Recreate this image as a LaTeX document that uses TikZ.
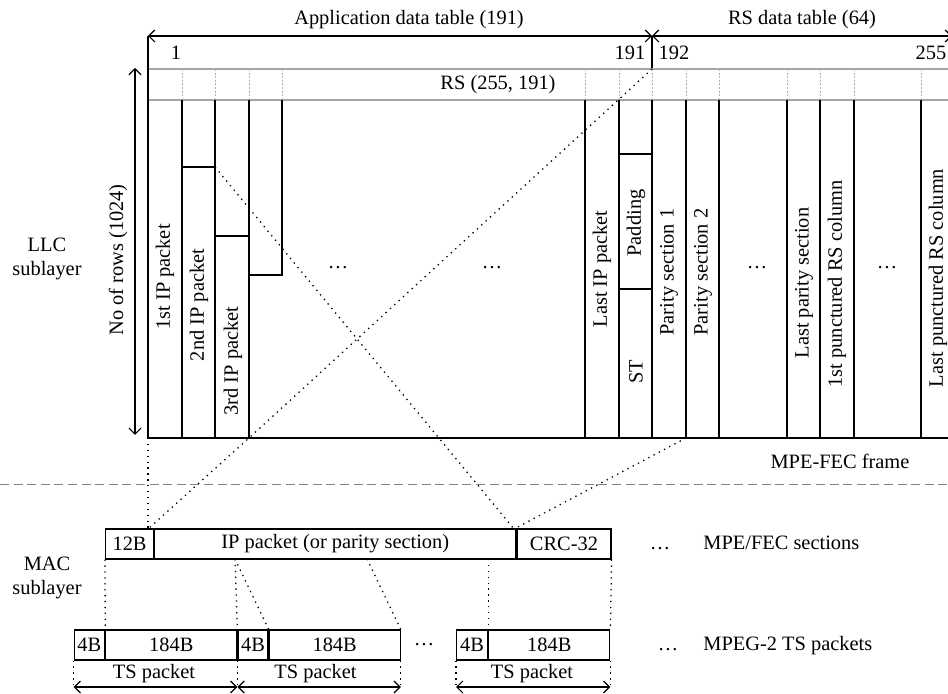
\documentclass[tikz,border=0pt]{standalone}
\usepackage{fontspec}
\setmainfont{Liberation Serif}
\usetikzlibrary{arrows.meta}
\begin{document}
\begin{tikzpicture}[x=0.5pt,y=-0.5pt,
  every node/.style={font=\fontsize{10.2}{12}\selectfont, inner sep=0pt},
  ln/.style={line width=0.6pt, black},
  dotline/.style={line width=0.65pt, dash pattern=on 0.65pt off 2.3pt},
  rsline/.style={line width=0.8pt, black!35},
  rsdiv/.style={line width=0.4pt, black!30, dash pattern=on 1pt off 0.8pt},
  dim/.style={line width=0.6pt, {Straight Barb[length=3pt,width=6pt]}-{Straight Barb[length=3pt,width=6pt]}},
  rot/.style={rotate=90},
  box/.style={draw, line width=0.6pt, minimum height=15pt, inner sep=0pt, anchor=west},
  sep/.style={gray, line width=0.5pt, dash pattern=on 4.5pt off 2.3pt},
]
\fill[white] (0,0) rectangle (948,694);
\useasboundingbox (0,0) rectangle (948,694);

% ---------- header ----------
\coordinate (tl) at (148,36);
\coordinate (tm) at (652,36);
\coordinate (tr) at (952,36);
\draw[dim] (tl) -- (tm);
\draw[dim] (tm) -- (tr);
\node (appt) at (409,20) {Application data table (191)};
\node (rstab) at (802,20) {RS data table (64)};
\node (n1) at (176,53) {1};
\node (n191) at (630,53) {191};
\node (n192) at (674,53) {192};
\node (n255) at (931,53) {255};
\draw[ln] (tm) -- (652,69);

% ---------- RS row ----------
\draw[rsline] (148,69) -- (948,69);
\draw[rsline] (148,100) -- (948,100);
\foreach \x in {182,215,249,282,585,619,652,686,719,787,820,854,921}
  \draw[rsdiv] (\x,69) -- (\x,100);
\node (rsc) at (498,85) {RS (255, 191)};

% ---------- frame ----------
\draw[ln] (tl) -- (148,438);
\foreach \x in {182,215,249,585,619,652,686,719,787,820,854,921}
  \draw[ln] (\x,100) -- (\x,438);
\draw[ln] (282,100) -- (282,275) -- (249,275);
\draw[ln] (182,167) -- (215,167);
\draw[ln] (215,236) -- (249,236);
\draw[ln] (619,154) -- (652,154);
\draw[ln] (619,289) -- (652,289);
\draw[ln] (148,438) -- (948,438);

\node[rot] (c1) at (165,277) {1st IP packet};
\node[rot] (c2) at (199,305) {2nd IP packet};
\node[rot] (c3) at (233,361) {3rd IP packet};
\node[rot] (cl) at (602,269) {Last IP packet};
\node[rot] (cpad) at (636,223) {Padding};
\node[rot] (cst) at (636,372) {ST};
\node[rot] (cp1) at (669,272) {Parity section 1};
\node[rot] (cp2) at (703,272) {Parity section 2};
\node[rot] (cpl) at (804,283) {Last parity section};
\node[rot] (cr1) at (837,284) {1st punctured RS column};
\node[rot] (crl) at (938,278) {Last punctured RS column};
\node (d1) at (338,268) {\dots};
\node (d2) at (492,268) {\dots};
\node (d3) at (757,268) {\dots};
\node (d4) at (887,268) {\dots};

\node (frm) at (840,461) {MPE-FEC frame};
\node[rot] (rows) at (118,260) {No of rows (1024)};
\draw[dim] (135,68) -- (135,435);
\node[align=center] (llc) at (47,259) {LLC\\sublayer};

% ---------- separator ----------
\draw[sep] (0,485) -- (948,485);
\node[align=center] (mac) at (47,578) {MAC\\sublayer};

% ---------- MPE section ----------
\node[box, minimum width=24pt] (h12) at (105,544) {12B};
\node[box, minimum width=180.5pt] (ip) at (h12.east) {IP packet (or parity section)};
\node[box, minimum width=47pt] (crc) at (ip.east) {CRC-32};
\node[anchor=base] (md) at (660,550) {\dots};
\node[anchor=base west] (mlab) at (703,550) {MPE/FEC sections};

% ---------- TS packets ----------
\node[box, minimum width=15.2pt] (a4) at (73.6,645) {4B};
\node[box, minimum width=65.5pt] (a184) at (a4.east) {184B};
\node[box, minimum width=15pt] (b4) at (a184.east) {4B};
\node[box, minimum width=65.5pt] (b184) at (b4.east) {184B};
\node[box, minimum width=15.5pt] (c4) at (456,645) {4B};
\node[box, minimum width=60.5pt] (c184) at (c4.east) {184B};
\node (tsd) at (424,645) {\dots};
\node[anchor=base] (td) at (668,651) {\dots};
\node[anchor=base west] (tlab) at (703,651) {MPEG-2 TS packets};

\node (ts1) at (154,674) {TS packet};
\node (ts2) at (315.5,674) {TS packet};
\node (ts3) at (532,674) {TS packet};
\draw[dim] (a4.south west |- 0,687) -- (b4.south west |- 0,687);
\draw[dim] (b4.south west |- 0,687) -- (b184.south east |- 0,687);
\draw[dim] (c4.south west |- 0,687) -- (c184.south east |- 0,687);

% ---------- dotted mapping lines ----------
\coordinate (lstart) at (148,529);
\coordinate (rend) at (514,529);
\draw[dotline] (652,69) -- (249,438) -- (lstart);
\draw[dotline] (148,438) -- (lstart);
\draw[dotline] (215,167) -- (rend);
\draw[dotline] (686,438) -- (rend);

\draw[dotline] (h12.south west) -- (a4.north east);
\draw[dotline] (235,559) -- (b4.north west);
\draw[dotline] (235,559) -- (b4.north east);
\draw[dotline] (367,559) -- (b184.north east);
\draw[dotline] (c4.north east |- 0,559) -- (c4.north east);
\draw[dotline] (crc.south east) -- (c184.north east);

\foreach \n/\a in {a4/south west, b4/south west, b184/south east, c4/south west, c184/south east}
  \draw[dotline] (\n.\a) -- (\n.\a |- 0,687);
\end{tikzpicture}
\end{document}
